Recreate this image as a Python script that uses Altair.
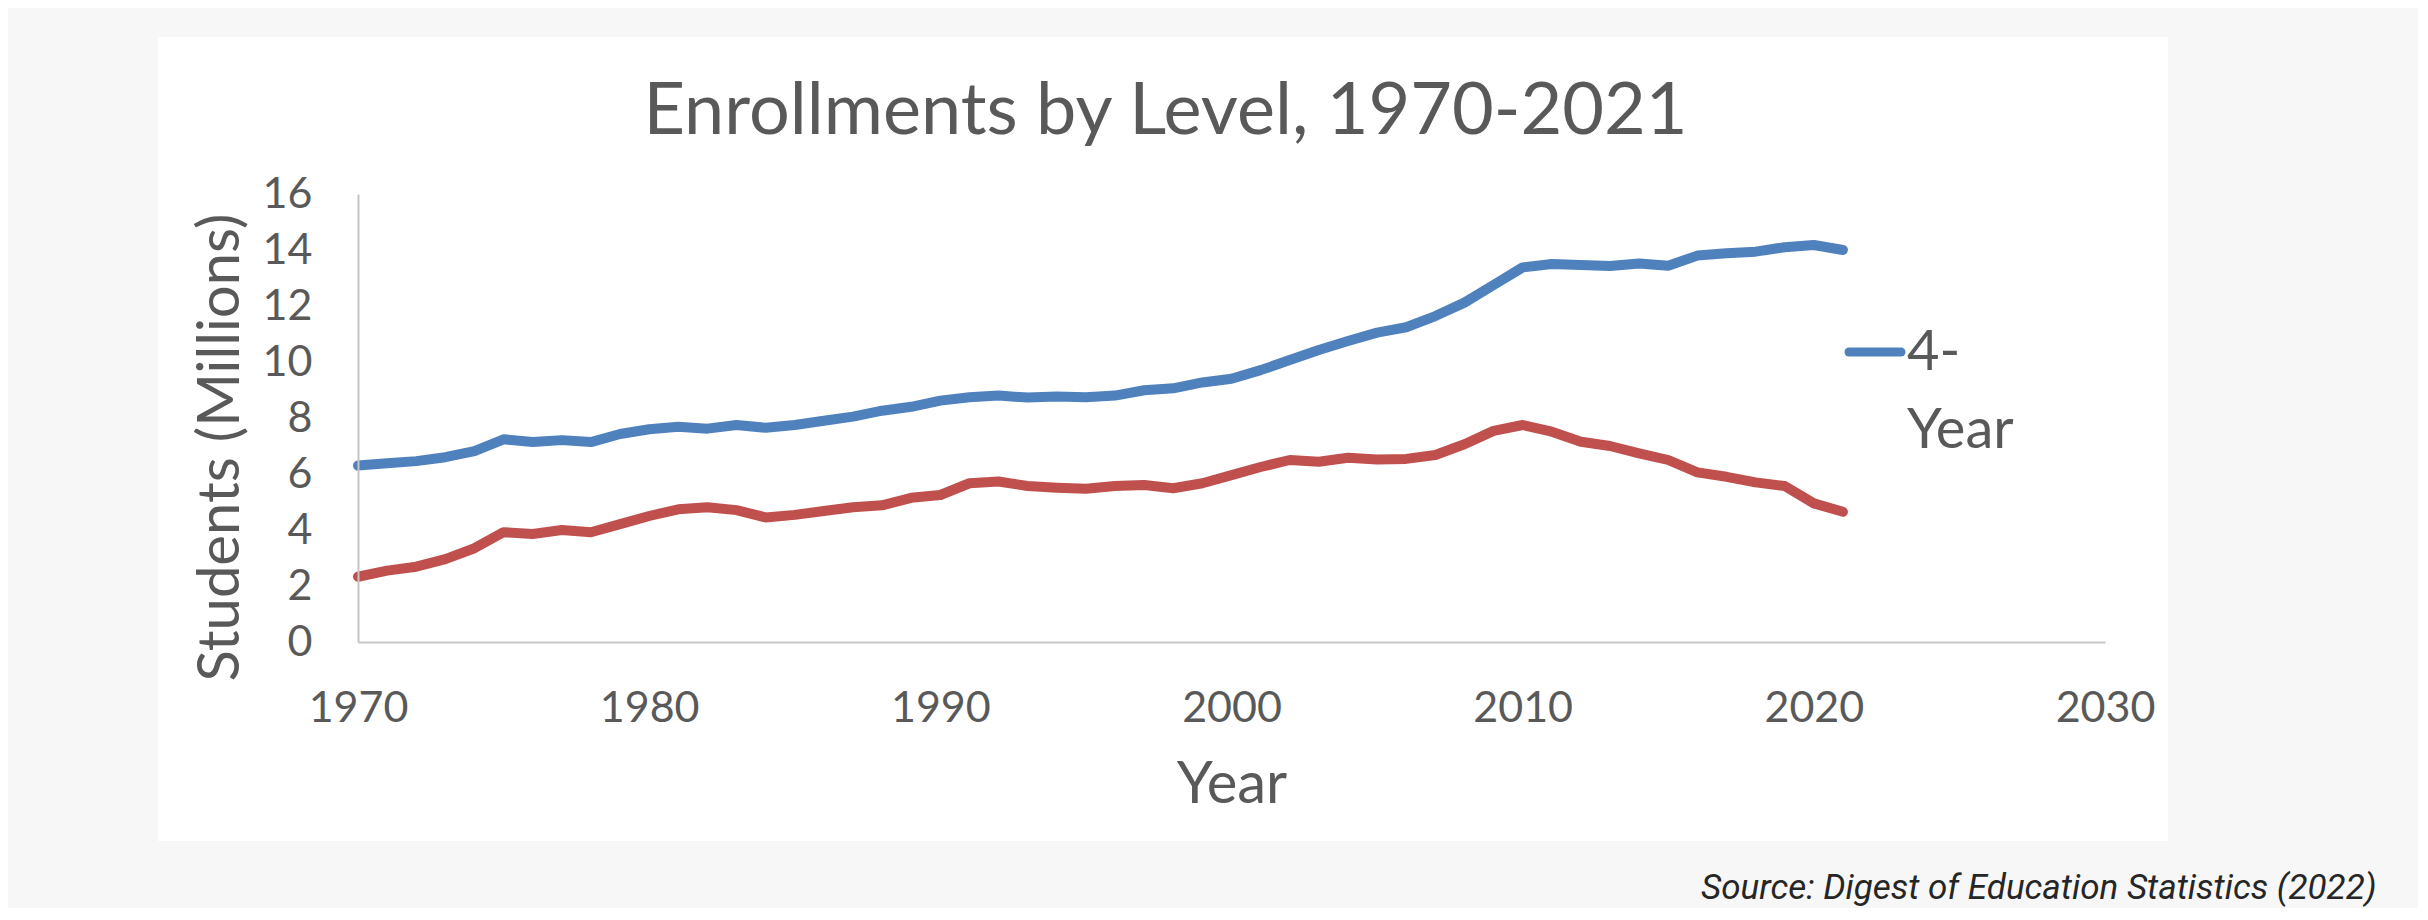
import altair as alt
import pandas as pd

# ---- data ----
years = list(range(1970, 2022))
four_year = [6.30, 6.38, 6.46, 6.60, 6.82, 7.24, 7.14, 7.21, 7.14, 7.43,
             7.60, 7.69, 7.62, 7.75, 7.65, 7.75, 7.90, 8.05, 8.26, 8.40,
             8.62, 8.74, 8.80, 8.73, 8.77, 8.74, 8.80, 8.99, 9.06, 9.27,
             9.40, 9.71, 10.07, 10.43, 10.75, 11.05, 11.24, 11.64, 12.12, 12.75,
             13.38, 13.50, 13.46, 13.43, 13.52, 13.44, 13.80, 13.88, 13.94, 14.10,
             14.18, 14.00]
two_year = [2.33, 2.55, 2.69, 2.96, 3.35, 3.92, 3.86, 4.00, 3.92, 4.21,
            4.50, 4.74, 4.81, 4.71, 4.45, 4.54, 4.68, 4.81, 4.88, 5.15,
            5.25, 5.67, 5.73, 5.57, 5.51, 5.47, 5.57, 5.61, 5.49, 5.67,
            5.96, 6.25, 6.50, 6.44, 6.58, 6.52, 6.54, 6.68, 7.06, 7.54,
            7.75, 7.51, 7.15, 7.00, 6.74, 6.50, 6.06, 5.90, 5.70, 5.57,
            4.95, 4.65]
series_names = ["4-Year", "2-Year"]
series_colors = ["#4F81BD", "#C0504D"]
legend_names = ["4-Year"]
x_ticks = [1970, 1980, 1990, 2000, 2010, 2020, 2030]
y_ticks = [0, 2, 4, 6, 8, 10, 12, 14, 16]
title_text = "Enrollments by Level, 1970-2021"
x_title = "Year"
y_title = "Students (Millions)"
source_note = "Source: Digest of Education Statistics (2022)"

df = pd.concat([
    pd.DataFrame({"Year": years, "Students": four_year, "Level": series_names[0]}),
    pd.DataFrame({"Year": years, "Students": two_year, "Level": series_names[1]}),
], ignore_index=True)

GRAY = "#595959"
color_scale = alt.Scale(domain=series_names, range=series_colors)

# white panel behind the chart (decoration)
panel = alt.Chart(pd.DataFrame({"p": [1]})).mark_rect(color="white").encode(
    x=alt.value(-200), x2=alt.value(1810), y=alt.value(-157), y2=alt.value(647)
)

lines = alt.Chart(df).mark_line(strokeWidth=10, strokeCap="round", strokeJoin="round").encode(
    x=alt.X("Year:Q",
            scale=alt.Scale(domain=[1970, 2030], nice=False, zero=False),
            axis=alt.Axis(values=x_ticks, format="d", title=x_title, zindex=2,
                          labelPadding=45, labelFlush=False,
                          titleFontSize=58, titleBaseline="alphabetic", titleY=160)),
    y=alt.Y("Students:Q",
            scale=alt.Scale(domain=[0, 16], nice=False),
            axis=alt.Axis(values=y_ticks, title=y_title, labelPadding=46, labelFlush=False,
                          zindex=2,
                          titleFontSize=58, titleAngle=270, titleAlign="center",
                          titleBaseline="alphabetic", titleX=-120, titleY=253)),
    color=alt.Color("Level:N", scale=color_scale, legend=None),
)

legend_df = pd.DataFrame({"Level": legend_names})
legend_line = alt.Chart(legend_df).mark_rule(strokeWidth=9, strokeCap="round").encode(
    x=alt.value(1491), x2=alt.value(1543), y=alt.value(158),
    color=alt.Color("Level:N", scale=color_scale, legend=None),
)
legend_text = alt.Chart(legend_df).transform_calculate(
    label="replace(datum.Level, '-', '-\\n')"
).mark_text(align="left", baseline="alphabetic", font="Lato", fontSize=56,
            lineHeight=78, lineBreak="\n", color=GRAY).encode(
    x=alt.value(1549), y=alt.value(176), text="label:N"
)

source = alt.Chart(pd.DataFrame({"note": [source_note]})).mark_text(
    align="left", baseline="alphabetic", font="Roboto", fontStyle="italic",
    fontSize=35, color="#262626"
).encode(x=alt.value(1343), y=alt.value(705), text="note:N")

chart = alt.layer(panel, lines, legend_line, legend_text, source).properties(
    width=1747, height=448,
    title=alt.Title(title_text, font="Lato", fontSize=72, fontWeight="normal",
                    color=GRAY, anchor="middle", frame="group",
                    baseline="alphabetic", offset=0, dx=-66, dy=169),
    background="#f7f7f7",
    padding={"left": 350, "top": 186, "right": 313, "bottom": 266},
    autosize=alt.AutoSizeParams(type="none"),
).configure_view(stroke=None).configure_axis(
    grid=False, domainColor="#c6c6c6", domainWidth=2, ticks=False, tickSize=0,
    labelFont="Lato", labelFontSize=43, labelColor=GRAY,
    titleFont="Lato", titleColor=GRAY, titleFontWeight="normal",
)

chart.save("out.html", embed_options={"renderer": "svg", "actions": False})
